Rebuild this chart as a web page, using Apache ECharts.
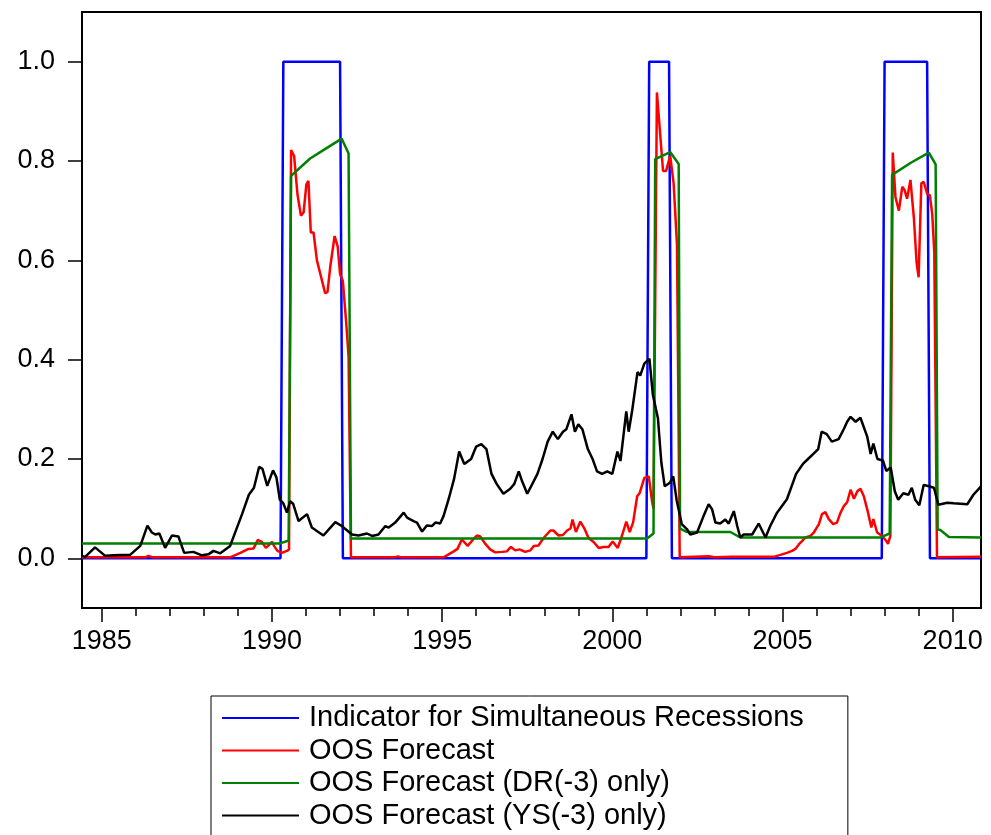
<!DOCTYPE html>
<html>
<head>
<meta charset="utf-8">
<script src="https://cdn.jsdelivr.net/npm/echarts@6.0.0/dist/echarts.min.js"></script>
<style>
  html, body { margin: 0; padding: 0; background: #fff; }
  #chart { width: 991px; height: 835px; }
</style>
</head>
<body>
<div id="chart"></div>
<script>
// monthly data, x = year + (month - 1) / 12
const seriesNames = [
  'Indicator for Simultaneous Recessions',
  'OOS Forecast',
  'OOS Forecast (DR(-3) only)',
  'OOS Forecast (YS(-3) only)'
]

const labelYears = [1985, 1990, 1995, 2000, 2005, 2010]
const tickYears = [1985, 1986, 1987, 1988, 1989, 1990, 1991, 1992, 1993, 1994, 1995, 1996, 1997,
  1998, 1999, 2000, 2001, 2002, 2003, 2004, 2005, 2006, 2007, 2008, 2009, 2010]
const yTicks = [0, 0.2, 0.4, 0.6, 0.8, 1.0]

const recession = [
  [1984.417, 0], [1990.25, 0], [1990.333, 1], [1992.0, 1], [1992.083, 0],
  [2001.0, 0], [2001.083, 1], [2001.667, 1], [2001.75, 0],
  [2007.917, 0], [2008.0, 1], [2009.25, 1], [2009.333, 0], [2010.833, 0]
]

const oosForecast = [
  [1984.417, 0.002], [1986.27, 0.002], [1986.37, 0.005], [1986.5, 0.002], [1988.77, 0.002],
  [1989.07, 0.011], [1989.31, 0.019], [1989.46, 0.020], [1989.58, 0.037], [1989.70, 0.033],
  [1989.82, 0.021], [1989.90, 0.026], [1990.00, 0.033], [1990.06, 0.025], [1990.16, 0.015],
  [1990.29, 0.011], [1990.44, 0.015], [1990.50, 0.018],
  [1990.56, 0.822], [1990.65, 0.810], [1990.75, 0.732], [1990.85, 0.690], [1990.93, 0.697],
  [1991.01, 0.753], [1991.07, 0.760], [1991.14, 0.656], [1991.22, 0.656], [1991.32, 0.600],
  [1991.47, 0.559], [1991.56, 0.534], [1991.63, 0.536], [1991.71, 0.586], [1991.84, 0.649],
  [1991.93, 0.628], [1992.00, 0.572], [1992.08, 0.559], [1992.18, 0.475], [1992.25, 0.406],
  [1992.32, 0.002], [1993.6, 0.002], [1993.7, 0.004], [1993.8, 0.002],
  [1995.04, 0.002], [1995.14, 0.006], [1995.34, 0.014], [1995.45, 0.019], [1995.58, 0.038],
  [1995.75, 0.025], [1995.91, 0.038], [1996.02, 0.046], [1996.12, 0.044], [1996.27, 0.029],
  [1996.41, 0.018], [1996.56, 0.012], [1996.76, 0.013], [1996.90, 0.014], [1997.02, 0.023],
  [1997.15, 0.016], [1997.27, 0.018], [1997.44, 0.013], [1997.59, 0.016], [1997.69, 0.025],
  [1997.83, 0.026], [1997.98, 0.041], [1998.18, 0.056], [1998.27, 0.056], [1998.42, 0.046],
  [1998.55, 0.047], [1998.67, 0.056], [1998.77, 0.060], [1998.83, 0.078], [1998.93, 0.053],
  [1999.06, 0.074], [1999.18, 0.060], [1999.30, 0.041], [1999.45, 0.033], [1999.60, 0.021],
  [1999.74, 0.023], [1999.89, 0.023], [2000.01, 0.034], [2000.16, 0.021], [2000.29, 0.047],
  [2000.41, 0.074], [2000.51, 0.053], [2000.61, 0.072], [2000.73, 0.125], [2000.80, 0.131],
  [2000.94, 0.162], [2001.07, 0.165], [2001.17, 0.114], [2001.21, 0.100],
  [2001.31, 0.938], [2001.49, 0.780], [2001.58, 0.780], [2001.70, 0.811], [2001.80, 0.756],
  [2001.90, 0.632], [2001.98, 0.002], [2002.83, 0.004], [2003.0, 0.002], [2003.5, 0.003],
  [2004.74, 0.003], [2004.94, 0.007], [2005.13, 0.011], [2005.28, 0.015], [2005.38, 0.019],
  [2005.48, 0.028], [2005.58, 0.035], [2005.67, 0.042], [2005.82, 0.045], [2005.92, 0.052],
  [2006.07, 0.069], [2006.16, 0.089], [2006.26, 0.093], [2006.36, 0.079], [2006.49, 0.069],
  [2006.60, 0.072], [2006.70, 0.091], [2006.80, 0.105], [2006.90, 0.113], [2007.00, 0.138],
  [2007.10, 0.120], [2007.20, 0.135], [2007.29, 0.140], [2007.39, 0.125], [2007.51, 0.093],
  [2007.61, 0.062], [2007.67, 0.079], [2007.78, 0.052], [2007.93, 0.045], [2008.05, 0.035],
  [2008.10, 0.029], [2008.17, 0.045],
  [2008.24, 0.817], [2008.32, 0.727], [2008.42, 0.700], [2008.52, 0.748], [2008.59, 0.741],
  [2008.66, 0.724], [2008.76, 0.762], [2008.86, 0.686], [2008.94, 0.596], [2009.00, 0.566],
  [2009.08, 0.755], [2009.15, 0.758], [2009.25, 0.734], [2009.33, 0.731], [2009.40, 0.693],
  [2009.46, 0.617], [2009.54, 0.002], [2010.833, 0.003]
]

const drOnly = [
  [1984.417, 0.030], [1990.24, 0.030], [1990.49, 0.036],
  [1990.56, 0.770], [1991.12, 0.805], [1991.51, 0.822], [1992.05, 0.845], [1992.25, 0.815],
  [1992.32, 0.040], [2001.02, 0.040], [2001.21, 0.050],
  [2001.26, 0.804], [2001.70, 0.818], [2001.95, 0.794],
  [2001.99, 0.060], [2002.2, 0.053], [2003.47, 0.053], [2003.76, 0.042], [2007.88, 0.042],
  [2008.15, 0.050], [2008.22, 0.772], [2008.76, 0.796], [2009.30, 0.817], [2009.50, 0.793],
  [2009.56, 0.058], [2009.64, 0.057], [2009.89, 0.043], [2010.833, 0.042]
]

const ysOnly = [
  [1984.417, 0.005], [1984.51, 0.003], [1984.80, 0.022], [1985.10, 0.005], [1985.34, 0.006],
  [1985.83, 0.007], [1986.13, 0.025], [1986.34, 0.066], [1986.47, 0.052], [1986.57, 0.048],
  [1986.69, 0.050], [1986.86, 0.021], [1987.06, 0.046], [1987.25, 0.044], [1987.42, 0.011],
  [1987.69, 0.013], [1987.94, 0.006], [1988.13, 0.008], [1988.28, 0.015], [1988.48, 0.010],
  [1988.77, 0.025], [1989.12, 0.089], [1989.32, 0.128], [1989.47, 0.142], [1989.62, 0.184],
  [1989.72, 0.180], [1989.86, 0.146], [1990.03, 0.177], [1990.13, 0.163], [1990.23, 0.118],
  [1990.33, 0.111], [1990.44, 0.092], [1990.53, 0.115], [1990.62, 0.110], [1990.78, 0.075],
  [1991.03, 0.089], [1991.17, 0.062], [1991.51, 0.046], [1991.86, 0.073], [1992.05, 0.065],
  [1992.35, 0.048], [1992.54, 0.046], [1992.79, 0.050], [1992.94, 0.045], [1993.13, 0.048],
  [1993.33, 0.065], [1993.43, 0.062], [1993.62, 0.072], [1993.87, 0.092], [1993.97, 0.082],
  [1994.16, 0.075], [1994.26, 0.072], [1994.41, 0.054], [1994.55, 0.066], [1994.70, 0.065],
  [1994.80, 0.072], [1994.94, 0.070], [1995.04, 0.085], [1995.19, 0.119],
  [1995.35, 0.160], [1995.50, 0.215], [1995.65, 0.190], [1995.85, 0.200], [1996.00, 0.225],
  [1996.15, 0.230], [1996.30, 0.220], [1996.45, 0.170], [1996.60, 0.150], [1996.80, 0.130],
  [1997.00, 0.140], [1997.12, 0.150], [1997.25, 0.175], [1997.35, 0.155], [1997.50, 0.130],
  [1997.65, 0.150], [1997.80, 0.170], [1997.95, 0.200], [1998.10, 0.235], [1998.25, 0.255],
  [1998.40, 0.240], [1998.55, 0.255], [1998.65, 0.260], [1998.80, 0.290], [1998.90, 0.255],
  [1999.00, 0.270], [1999.12, 0.260], [1999.28, 0.220], [1999.42, 0.200], [1999.55, 0.175],
  [1999.70, 0.170], [1999.85, 0.175], [2000.00, 0.170], [2000.15, 0.215], [2000.24, 0.196],
  [2000.41, 0.296], [2000.48, 0.255], [2000.58, 0.296], [2000.74, 0.375], [2000.82, 0.368],
  [2000.94, 0.392], [2001.09, 0.402], [2001.19, 0.330], [2001.34, 0.282], [2001.44, 0.193],
  [2001.54, 0.145], [2001.69, 0.152], [2001.79, 0.165], [2001.89, 0.117], [2002.04, 0.069],
  [2002.19, 0.059], [2002.29, 0.048], [2002.49, 0.052], [2002.68, 0.085], [2002.83, 0.109],
  [2002.93, 0.099], [2003.03, 0.072], [2003.17, 0.070], [2003.32, 0.078], [2003.42, 0.070],
  [2003.57, 0.095], [2003.67, 0.065], [2003.76, 0.042], [2003.86, 0.048], [2004.11, 0.048],
  [2004.30, 0.070], [2004.50, 0.042], [2004.64, 0.065], [2004.84, 0.092], [2005.13, 0.119],
  [2005.40, 0.170], [2005.60, 0.190], [2005.75, 0.200], [2005.90, 0.210], [2006.05, 0.220],
  [2006.15, 0.255], [2006.30, 0.250], [2006.45, 0.235], [2006.65, 0.240], [2006.80, 0.260],
  [2006.90, 0.275], [2007.00, 0.285], [2007.15, 0.275], [2007.29, 0.283], [2007.49, 0.245],
  [2007.59, 0.210], [2007.67, 0.231], [2007.79, 0.200], [2007.95, 0.197], [2008.05, 0.176],
  [2008.18, 0.183], [2008.30, 0.135], [2008.40, 0.118], [2008.55, 0.131], [2008.70, 0.128],
  [2008.80, 0.142], [2008.90, 0.118], [2009.02, 0.107], [2009.15, 0.148], [2009.30, 0.145],
  [2009.45, 0.142], [2009.58, 0.108], [2009.84, 0.112], [2010.03, 0.111], [2010.43, 0.109],
  [2010.61, 0.128], [2010.833, 0.145]
]

const colors = ['#0000ff', '#ff0000', '#008000', '#000000']
const seriesData = [recession, oosForecast, drOnly, ysOnly]

const font = 'Liberation Sans, Arial, sans-serif'
const xMin = 1984.417
const xMax = 2010.833

const myChart = echarts.init(document.getElementById('chart'), null, { renderer: 'canvas' })

const option = {
  backgroundColor: '#fff',
  animation: false,
  grid: {
    left: 82,
    right: 10,
    top: 12,
    bottom: 227,
    show: true,
    borderColor: '#000',
    borderWidth: 2,
    outerBoundsMode: 'none'
  },
  legend: {
    orient: 'vertical',
    left: 211,
    top: 696,
    height: 140, // keep one column, box runs past the bottom edge
    icon: 'rect',
    itemWidth: 77,
    itemHeight: 2,
    itemGap: 2.5,
    padding: [7, 44, 12, 11],
    borderColor: '#000',
    borderWidth: 1,
    selectedMode: false,
    textStyle: {
      fontFamily: font,
      fontSize: 29,
      color: '#000',
      lineHeight: 30,
      padding: [0, 0, 0, 5]
    },
    data: seriesNames
  },
  xAxis: [
    {
      type: 'value',
      min: xMin,
      max: xMax,
      position: 'bottom',
      axisLine: { show: true, onZero: false, lineStyle: { color: '#000', width: 2 } },
      axisTick: { show: true, length: 14, customValues: labelYears, lineStyle: { color: '#000', width: 1.5 } },
      axisLabel: {
        customValues: labelYears,
        formatter: v => String(Math.round(v)),
        fontFamily: font,
        fontSize: 27,
        color: '#000',
        margin: 20
      },
      splitLine: { show: false }
    },
    {
      // minor yearly ticks
      type: 'value',
      min: xMin,
      max: xMax,
      position: 'bottom',
      axisLine: { show: false, onZero: false },
      axisTick: { show: true, length: 8, customValues: tickYears, lineStyle: { color: '#000', width: 1.5 } },
      axisLabel: { show: false },
      splitLine: { show: false }
    }
  ],
  yAxis: {
    type: 'value',
    min: -0.1,
    max: 1.1,
    axisLine: { show: true, onZero: false, lineStyle: { color: '#000', width: 2 } },
    axisTick: { show: true, length: 14, customValues: yTicks, lineStyle: { color: '#000', width: 1.5 } },
    axisLabel: {
      customValues: yTicks,
      formatter: v => v.toFixed(1),
      fontFamily: font,
      fontSize: 27,
      color: '#000',
      margin: 27
    },
    splitLine: { show: false }
  },
  series: seriesNames.map((name, i) => ({
    name: name,
    type: 'line',
    xAxisIndex: 0,
    data: seriesData[i],
    symbol: 'none',
    showSymbol: false,
    color: colors[i],
    lineStyle: { color: colors[i], width: 2.5 },
    z: 2 + i
  }))
}

myChart.setOption(option)
</script>
</body>
</html>
